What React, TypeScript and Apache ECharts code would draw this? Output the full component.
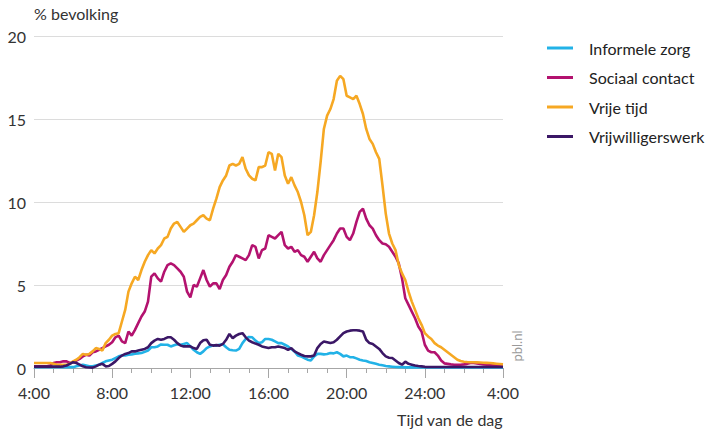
import React, { useEffect, useRef } from "react";
import * as echarts from "echarts";

const seriesNames = ["Informele zorg", "Sociaal contact", "Vrije tijd", "Vrijwilligerswerk"];
const seriesColors = ["#22b2e7", "#b3126f", "#f6a823", "#3b1766"];
const xTickLabels = ["4:00", "8:00", "12:00", "16:00", "20:00", "24:00", "4:00"];
const yAxisTitle = "% bevolking";
const xAxisTitle = "Tijd van de dag";
const sourceLabel = "pbl.nl";
const startHour = 4;
const stepMinutes = 10;

// values every 10 minutes from 4:00 to 4:00 next day (6 per hour)
const informeleZorg = [
  0.05, 0.05, 0.05, 0.05, 0.05, 0.05,
  0.05, 0.05, 0.05, 0.05, 0.05, 0.05,
  0.05, 0.1, 0.15, 0.2, 0.15, 0.1,
  0.1, 0.15, 0.2, 0.3, 0.4, 0.45,
  0.5, 0.6, 0.7, 0.75, 0.75, 0.8,
  0.82, 0.86, 0.88, 0.9, 0.97, 1.05,
  1.25, 1.25, 1.3, 1.42, 1.4, 1.4,
  1.3, 1.37, 1.43, 1.4, 1.45, 1.5,
  1.3, 1.1, 0.95, 0.85, 1.0, 1.2,
  1.3, 1.37, 1.35, 1.4, 1.43, 1.25,
  1.1, 1.07, 1.05, 1.15, 1.5, 1.75,
  1.87, 1.85, 1.65, 1.5, 1.55, 1.75,
  1.75, 1.7, 1.6, 1.5, 1.5, 1.4,
  1.3, 1.15, 1.0, 0.75, 0.7, 0.6,
  0.5, 0.45, 0.7, 0.85, 0.85, 0.82,
  0.84, 0.9, 0.88, 0.95, 0.85, 0.7,
  0.75, 0.65, 0.65, 0.58, 0.5, 0.45,
  0.42, 0.35, 0.3, 0.25, 0.2, 0.16,
  0.12, 0.1, 0.08, 0.06, 0.05, 0.05,
  0.04, 0.04, 0.04, 0.04, 0.04, 0.04,
  0.04, 0.04, 0.04, 0.04, 0.04, 0.04,
  0.04, 0.04, 0.04, 0.04, 0.04, 0.04,
  0.04, 0.04, 0.04, 0.04, 0.04, 0.04,
  0.04, 0.04, 0.04, 0.04, 0.04, 0.04,
  0.04,
];

const sociaalContact = [
  0.1, 0.1, 0.1, 0.1, 0.1, 0.15,
  0.3, 0.35, 0.35, 0.4, 0.4, 0.3,
  0.35, 0.45, 0.55, 0.7, 0.8, 0.75,
  0.95, 1.0, 1.1, 1.2, 1.3, 1.4,
  1.55, 1.85, 1.95, 1.6, 1.5, 2.2,
  1.95, 2.3, 2.7, 3.1, 3.4, 4.0,
  5.5, 5.7, 5.4, 5.2, 5.8, 6.2,
  6.3, 6.2, 6.0, 5.8, 5.5, 4.6,
  4.25, 5.0, 4.9, 5.4, 5.9, 5.3,
  4.9, 5.1, 5.1, 4.75, 5.3, 5.6,
  6.1, 6.4, 6.8, 6.7, 6.6, 6.5,
  6.8, 7.4, 7.3, 6.6, 7.1, 7.2,
  8.0, 7.9, 7.8, 8.0, 8.2, 7.4,
  7.2, 7.3, 7.0, 7.1, 6.8, 6.7,
  6.4, 6.7, 7.0, 6.6, 6.4, 6.8,
  7.1, 7.4, 7.7, 8.1, 8.4, 8.4,
  7.9, 7.7, 8.1, 8.8, 9.4, 9.6,
  9.0, 8.6, 8.4, 8.0, 7.7, 7.5,
  7.45, 7.3, 7.0, 6.7, 6.3, 5.4,
  4.2, 3.8, 3.4, 3.0, 2.5, 2.2,
  1.4, 1.05, 0.95, 0.95, 0.75, 0.45,
  0.28, 0.25, 0.22, 0.2, 0.2, 0.2,
  0.22, 0.25, 0.3, 0.3, 0.28, 0.25,
  0.22, 0.2, 0.2, 0.2, 0.2, 0.2,
  0.2,
];

const vrijeTijd = [
  0.3, 0.3, 0.3, 0.3, 0.3, 0.3,
  0.25, 0.2, 0.2, 0.2, 0.2, 0.25,
  0.4, 0.5, 0.65, 0.85, 0.8, 0.85,
  1.0, 1.2, 1.15, 1.05, 1.5, 1.7,
  1.95, 2.05, 2.1, 2.8, 3.5, 4.6,
  5.1, 5.5, 5.3, 5.9, 6.4, 6.8,
  7.1, 6.9, 7.2, 7.4, 7.8, 7.9,
  8.4, 8.7, 8.8, 8.5, 8.2, 8.4,
  8.6, 8.7, 8.9, 9.1, 9.2, 9.0,
  8.9, 9.6, 10.2, 10.9, 11.3, 11.6,
  12.2, 12.3, 12.2, 12.3, 12.7, 12.0,
  11.6, 11.4, 11.3, 12.1, 12.1, 12.2,
  13.0, 12.9, 11.9, 12.9, 12.7, 11.6,
  11.1, 11.5, 11.0, 10.6, 10.0, 9.2,
  8.0, 8.2, 9.2, 10.6, 12.4, 14.4,
  15.2, 15.6, 16.2, 17.3, 17.6, 17.4,
  16.4, 16.3, 16.2, 16.4, 15.9, 15.3,
  14.4, 13.8, 13.5, 13.0, 12.6, 11.0,
  9.3, 8.1, 7.5, 7.1, 6.2, 5.7,
  5.3, 4.6, 4.0, 3.5, 3.0, 2.6,
  2.1, 1.9, 1.75, 1.5, 1.35, 1.25,
  1.1, 0.95, 0.8, 0.65, 0.5, 0.42,
  0.38, 0.36, 0.35, 0.35, 0.34, 0.33,
  0.32, 0.31, 0.3, 0.28, 0.26, 0.24,
  0.22,
];

const vrijwilligerswerk = [
  0.08, 0.08, 0.08, 0.08, 0.08, 0.08,
  0.08, 0.08, 0.08, 0.1, 0.15, 0.25,
  0.35, 0.3, 0.2, 0.1, 0.05, 0.03,
  0.02, 0.1, 0.2, 0.25, 0.1, 0.12,
  0.25, 0.4, 0.6, 0.75, 0.85, 0.9,
  1.0, 1.0, 1.05, 1.1, 1.15, 1.25,
  1.5, 1.65, 1.75, 1.7, 1.75, 1.85,
  1.85, 1.7, 1.5, 1.35, 1.3, 1.3,
  1.3, 1.2, 1.15, 1.5, 1.67, 1.7,
  1.4, 1.35, 1.38, 1.35, 1.45, 1.7,
  2.05, 1.8, 1.95, 2.05, 2.1, 1.85,
  1.65, 1.55, 1.47, 1.4, 1.3, 1.25,
  1.2, 1.25, 1.25, 1.3, 1.25, 1.2,
  1.1, 1.2, 1.0, 0.9, 0.8, 0.72,
  0.7, 0.7, 0.75, 1.2, 1.45, 1.6,
  1.55, 1.5, 1.55, 1.7, 1.9, 2.1,
  2.2, 2.25, 2.27, 2.27, 2.25, 2.2,
  1.7, 1.5, 1.45, 1.3, 1.15, 0.9,
  0.7, 0.62, 0.6, 0.45, 0.3, 0.2,
  0.38, 0.25, 0.2, 0.15, 0.12, 0.1,
  0.07, 0.06, 0.06, 0.06, 0.06, 0.06,
  0.06, 0.06, 0.06, 0.06, 0.06, 0.06,
  0.06, 0.06, 0.06, 0.06, 0.06, 0.06,
  0.06, 0.06, 0.06, 0.06, 0.06, 0.06,
  0.06,
];

const seriesValues = [informeleZorg, sociaalContact, vrijeTijd, vrijwilligerswerk];

const FONT = "Lato, 'Noto Sans', sans-serif";

export default function App() {
  const ref = useRef<HTMLDivElement>(null);

  useEffect(() => {
    if (!ref.current) return;
    const chart = echarts.init(ref.current, null, { renderer: "svg" });
    const toPairs = (arr: number[]) =>
      arr.map((v, i) => [startHour + (i * stepMinutes) / 60, v]);

    chart.setOption({
      animation: false,
      textStyle: { fontFamily: FONT },
      grid: { left: 34, right: 206, top: 36, bottom: 66, containLabel: false },
      legend: {
        orient: "vertical",
        left: 542,
        top: 33.5,
        icon: "rect",
        itemWidth: 26,
        itemHeight: 3,
        itemGap: 10.5,
        data: seriesNames,
        textStyle: {
          fontFamily: FONT,
          fontSize: 16,
          color: "#222",
          lineHeight: 19,
          padding: [0, 0, 0, 11],
        },
      },
      xAxis: {
        type: "value",
        min: 4,
        max: 28,
        interval: 4,
        axisLine: { show: true, lineStyle: { color: "#a6a6a6", width: 1 } },
        axisTick: { show: true, length: 10, lineStyle: { color: "#a6a6a6" } },
        minorTick: { show: true, splitNumber: 4, length: 5, lineStyle: { color: "#a6a6a6" } },
        splitLine: { show: false },
        axisLabel: {
          fontFamily: FONT,
          fontSize: 16,
          color: "#333",
          margin: 16,
          formatter: (v: number) => xTickLabels[Math.round((v - 4) / 4)] ?? "",
        },
      },
      yAxis: {
        type: "value",
        min: 0,
        max: 20,
        interval: 5,
        axisLine: { show: false },
        axisTick: { show: false },
        splitLine: { show: true, lineStyle: { color: "#dcdcdc", width: 1 } },
        axisLabel: { fontFamily: FONT, fontSize: 16, color: "#333", margin: 8 },
      },
      graphic: [
        {
          type: "text",
          left: 34,
          top: 5,
          style: { text: yAxisTitle, fontFamily: FONT, fontSize: 16, fill: "#333" },
        },
        {
          type: "text",
          right: 206,
          top: 411,
          style: { text: xAxisTitle, fontFamily: FONT, fontSize: 16, fill: "#333" },
        },
        {
          type: "text",
          x: 517,
          y: 346,
          rotation: Math.PI / 2,
          style: {
            text: sourceLabel,
            fontFamily: FONT,
            fontSize: 13,
            fill: "#9a9a9a",
            textAlign: "center",
            textVerticalAlign: "middle",
          },
        },
      ],
      series: seriesNames.map((name, i) => ({
        name,
        type: "line",
        data: toPairs(seriesValues[i]),
        showSymbol: false,
        symbol: "none",
        lineStyle: { color: seriesColors[i], width: 2.6 },
        itemStyle: { color: seriesColors[i] },
        z: 2 + i,
      })),
    });

    return () => chart.dispose();
  }, []);

  return (
    <div
      ref={ref}
      style={{ position: "fixed", left: 0, top: 0, width: 709, height: 434, background: "#fff" }}
    />
  );
}
